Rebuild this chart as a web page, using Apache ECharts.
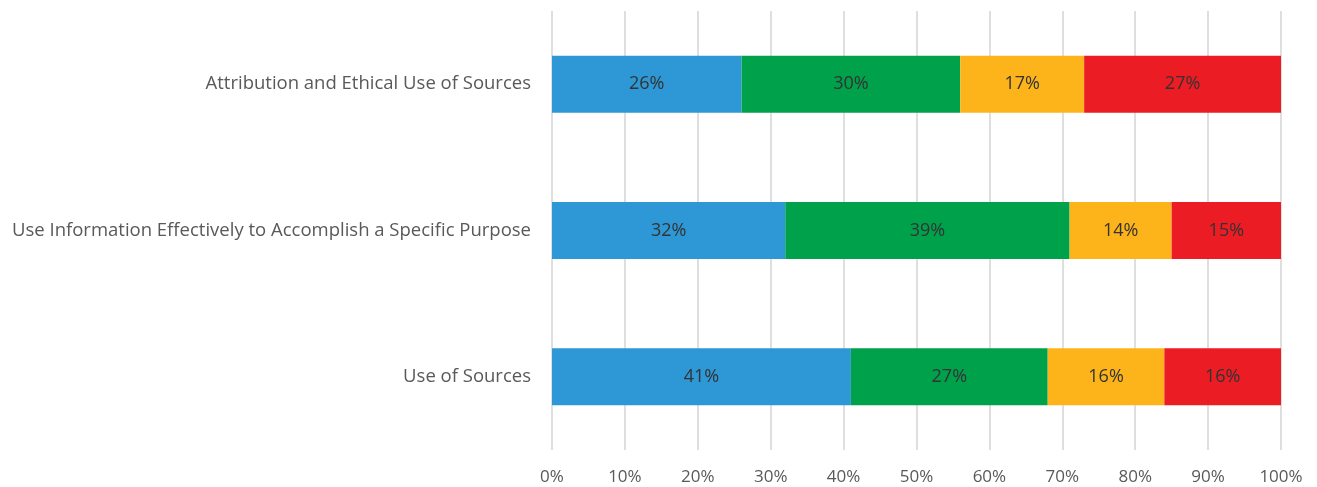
<!DOCTYPE html>
<html>
<head>
<meta charset="utf-8">
<script src="https://cdn.jsdelivr.net/npm/echarts@6/dist/echarts.min.js"></script>
<style>
  html, body { margin: 0; padding: 0; background: #fff; }
  #chart { width: 1317px; height: 487px; }
</style>
</head>
<body>
<div id="chart"></div>
<script>
// Categories listed bottom-to-top (category axis on y runs upward)
const categories = [
  'Use of Sources',
  'Use Information Effectively to Accomplish a Specific Purpose',
  'Attribution and Ethical Use of Sources'
];
// Percent shares per segment, same order as categories
const seg1 = [41, 32, 26];
const seg2 = [27, 39, 30];
const seg3 = [16, 14, 17];
const seg4 = [16, 15, 27];
const segColors = ['#2E97D5', '#00A14B', '#FDB41B', '#EC1C24'];
const xTicks = [0, 10, 20, 30, 40, 50, 60, 70, 80, 90, 100];

const FONT = '"Open Sans", "Noto Sans", sans-serif';

function seg(name, data, color) {
  return {
    name: name,
    type: 'bar',
    stack: 'total',
    data: data,
    barWidth: 57,
    itemStyle: { color: color },
    label: {
      show: true,
      position: 'inside',
      formatter: p => p.value + '%',
      color: '#333333',
      fontFamily: FONT,
      fontSize: 18
    },
    emphasis: { disabled: true }
  };
}

const chart = echarts.init(document.getElementById('chart'), null, { renderer: 'canvas' });
chart.setOption({
  animation: false,
  grid: { left: 552, right: 36, top: 11, bottom: 37, containLabel: false },
  xAxis: {
    type: 'value',
    min: xTicks[0],
    max: xTicks[xTicks.length - 1],
    interval: 10,
    axisLine: { show: false },
    axisTick: { show: false },
    splitLine: { show: true, lineStyle: { color: '#D4D4D4', width: 1.5 } },
    axisLabel: {
      formatter: v => v + '%',
      color: '#595959',
      fontFamily: FONT,
      fontSize: 17,
      margin: 19
    }
  },
  yAxis: {
    type: 'category',
    data: categories,
    axisLine: { show: false },
    axisTick: { show: false },
    axisLabel: {
      color: '#595959',
      fontFamily: FONT,
      fontSize: 18.5,
      margin: 21
    }
  },
  series: [
    seg('s1', seg1, segColors[0]),
    seg('s2', seg2, segColors[1]),
    seg('s3', seg3, segColors[2]),
    seg('s4', seg4, segColors[3])
  ]
});
</script>
</body>
</html>
